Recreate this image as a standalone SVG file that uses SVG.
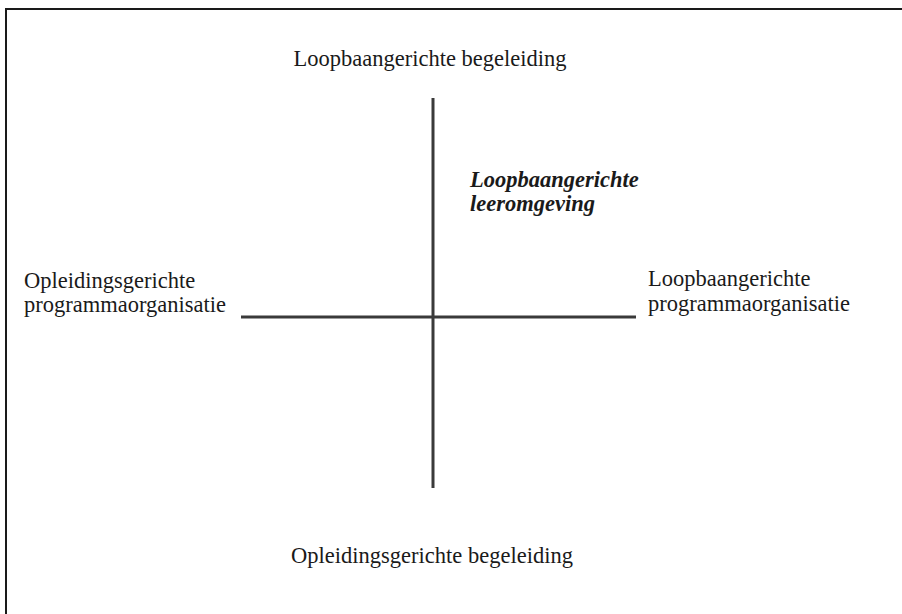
<svg xmlns="http://www.w3.org/2000/svg" width="902" height="614" viewBox="0 0 902 614">
<style>
.t{font-family:"Liberation Serif","Times New Roman",serif;font-size:22.5px;fill:#1a1a1a}
.b{font-weight:bold;font-style:italic}
.ax{stroke:#3a3a3a;stroke-width:3;fill:none}
.fr{stroke:#1a1a1a;stroke-width:2;fill:none}
</style>
<rect width="902" height="614" fill="#fff"/>
<path class="fr" d="M6,614 V9 H902"/>
<g id="connectors">
<line class="ax" x1="433" y1="98" x2="433" y2="488"/>
<line class="ax" x1="241" y1="317" x2="636" y2="317"/>
</g>
<g id="top"><text class="t" x="430" y="66" text-anchor="middle">Loopbaangerichte begeleiding</text></g>
<g id="bottom"><text class="t" x="432" y="563" text-anchor="middle">Opleidingsgerichte begeleiding</text></g>
<g id="left"><text class="t" x="24" y="288">Opleidingsgerichte</text><text class="t" x="24" y="312">programmaorganisatie</text></g>
<g id="right"><text class="t" x="648" y="286">Loopbaangerichte</text><text class="t" x="648" y="311">programmaorganisatie</text></g>
<g id="quadrant"><text class="t b" x="470" y="187">Loopbaangerichte</text><text class="t b" x="470" y="211">leeromgeving</text></g>
</svg>
